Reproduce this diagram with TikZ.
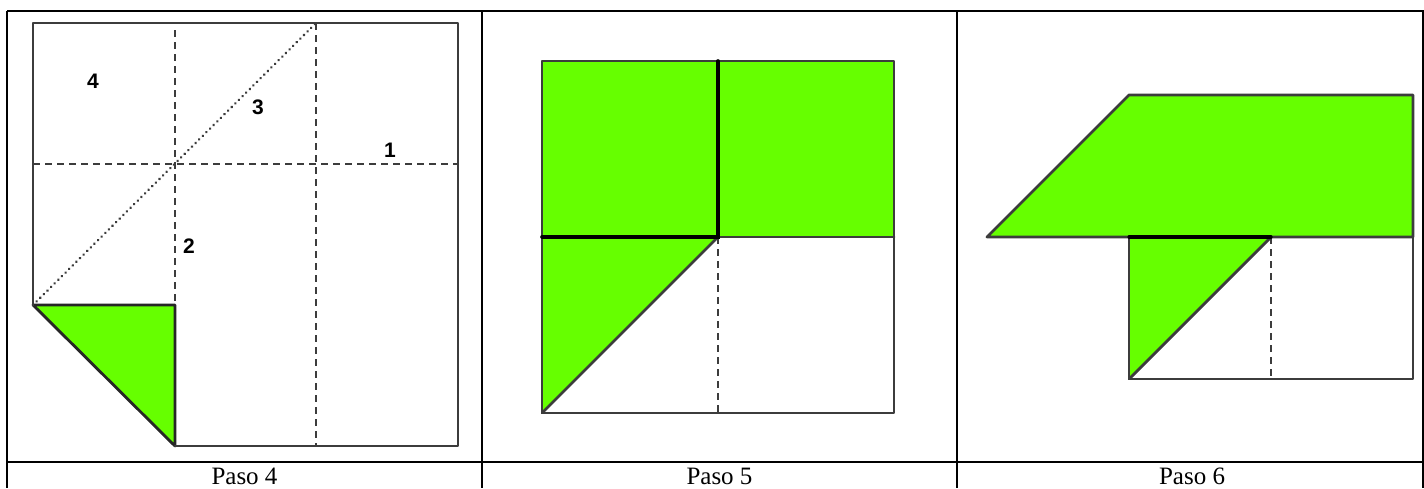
\documentclass[tikz,border=0pt]{standalone}
\usepackage{fontspec}
\setmainfont{Liberation Serif}
\newfontfamily\labelfont{Liberation Sans}
\definecolor{foldgreen}{HTML}{66FF00}
\definecolor{linegray}{HTML}{3C3C3C}
\begin{document}
\begin{tikzpicture}[x=1pt,y=-1pt,
  tableline/.style={draw=black, line width=1.5pt},
  edge/.style={draw=linegray, line width=2.8pt, line join=round, line cap=round},
  thickedge/.style={draw=black, line width=3.6pt, line cap=round},
  foldline/.style={draw=linegray, line width=2.8pt, dash pattern=on 7pt off 5pt},
  diagline/.style={draw=linegray, line width=2.8pt, dash pattern=on 0.1pt off 5pt, line cap=round},
  greenpart/.style={fill=foldgreen, draw=black!85, line width=2.8pt, line join=round},
  steplabel/.style={font=\labelfont\bfseries\fontsize{21}{23}\selectfont, inner sep=0pt},
  caption/.style={font=\fontsize{25}{28}\selectfont, anchor=base, inner sep=0pt}]
\useasboundingbox (0,0) rectangle (1424,488);
% ---------- table ----------
\draw[tableline] (7,11) -- (1424,11);
\draw[tableline] (7,462) -- (1424,462);
\draw[tableline] (7,11) -- (7,488);
\draw[tableline] (482,11) -- (482,488);
\draw[tableline] (957,11) -- (957,488);
\draw[tableline] (1423,11) -- (1423,488);
\node[caption] (c4) at (244.5,484) {Paso 4};
\node[caption] (c5) at (719.5,484) {Paso 5};
\node[caption] (c6) at (1192,484) {Paso 6};
% ---------- Paso 4 ----------
\coordinate (a1) at (33,23);
\coordinate (a2) at (458,23);
\coordinate (a3) at (458,446);
\coordinate (a4) at (175,446);
\coordinate (a5) at (175,305);
\coordinate (a6) at (33,305);
\path[greenpart] (a6) -- (a5) -- (a4) -- cycle;
\draw[edge] (a6) -- (a1) -- (a2) -- (a3) -- (a4);
\draw[foldline] (175,30) -- (a5);
\draw[foldline] (316,23) -- (316,446);
\draw[foldline] (33,164) -- (458,164);
\draw[diagline] (a6) -- (316,23);
\node[steplabel] (l4) at (93,81) {4};
\node[steplabel] (l3) at (258,107) {3};
\node[steplabel] (l1) at (390,150) {1};
\node[steplabel] (l2) at (189,246) {2};
% ---------- Paso 5 ----------
\coordinate (b1) at (542,61);
\coordinate (b2) at (894,61);
\coordinate (b3) at (894,413);
\coordinate (b4) at (542,413);
\coordinate (bm) at (718,237);
\path[fill=foldgreen] (542,61) rectangle (894,237);
\path[fill=foldgreen] (542,237) -- (bm) -- (b4) -- cycle;
\draw[edge] (b1) -- (b2) -- (b3) -- (b4) -- cycle;
\draw[edge] (bm) -- (894,237);
\draw[edge] (b4) -- (bm);
\draw[foldline] (bm) -- (718,413);
\draw[thickedge] (718,61) -- (bm) -- (542,237);
% ---------- Paso 6 ----------
\coordinate (p1) at (987,237);
\coordinate (p2) at (1129,95);
\coordinate (p3) at (1413,95);
\coordinate (p4) at (1413,237);
\coordinate (q1) at (1129,379);
\coordinate (q2) at (1413,379);
\coordinate (qm) at (1271,237);
\path[fill=foldgreen] (p1) -- (p2) -- (p3) -- (p4) -- cycle;
\path[fill=foldgreen] (1129,237) -- (qm) -- (q1) -- cycle;
\draw[edge] (p1) -- (p2) -- (p3) -- (p4) -- cycle;
\draw[edge] (1129,237) -- (q1) -- (q2) -- (p4);
\draw[edge] (q1) -- (qm);
\draw[foldline] (qm) -- (1271,379);
\draw[thickedge, line width=3.2pt] (1129,237) -- (qm);
\end{tikzpicture}
\end{document}
